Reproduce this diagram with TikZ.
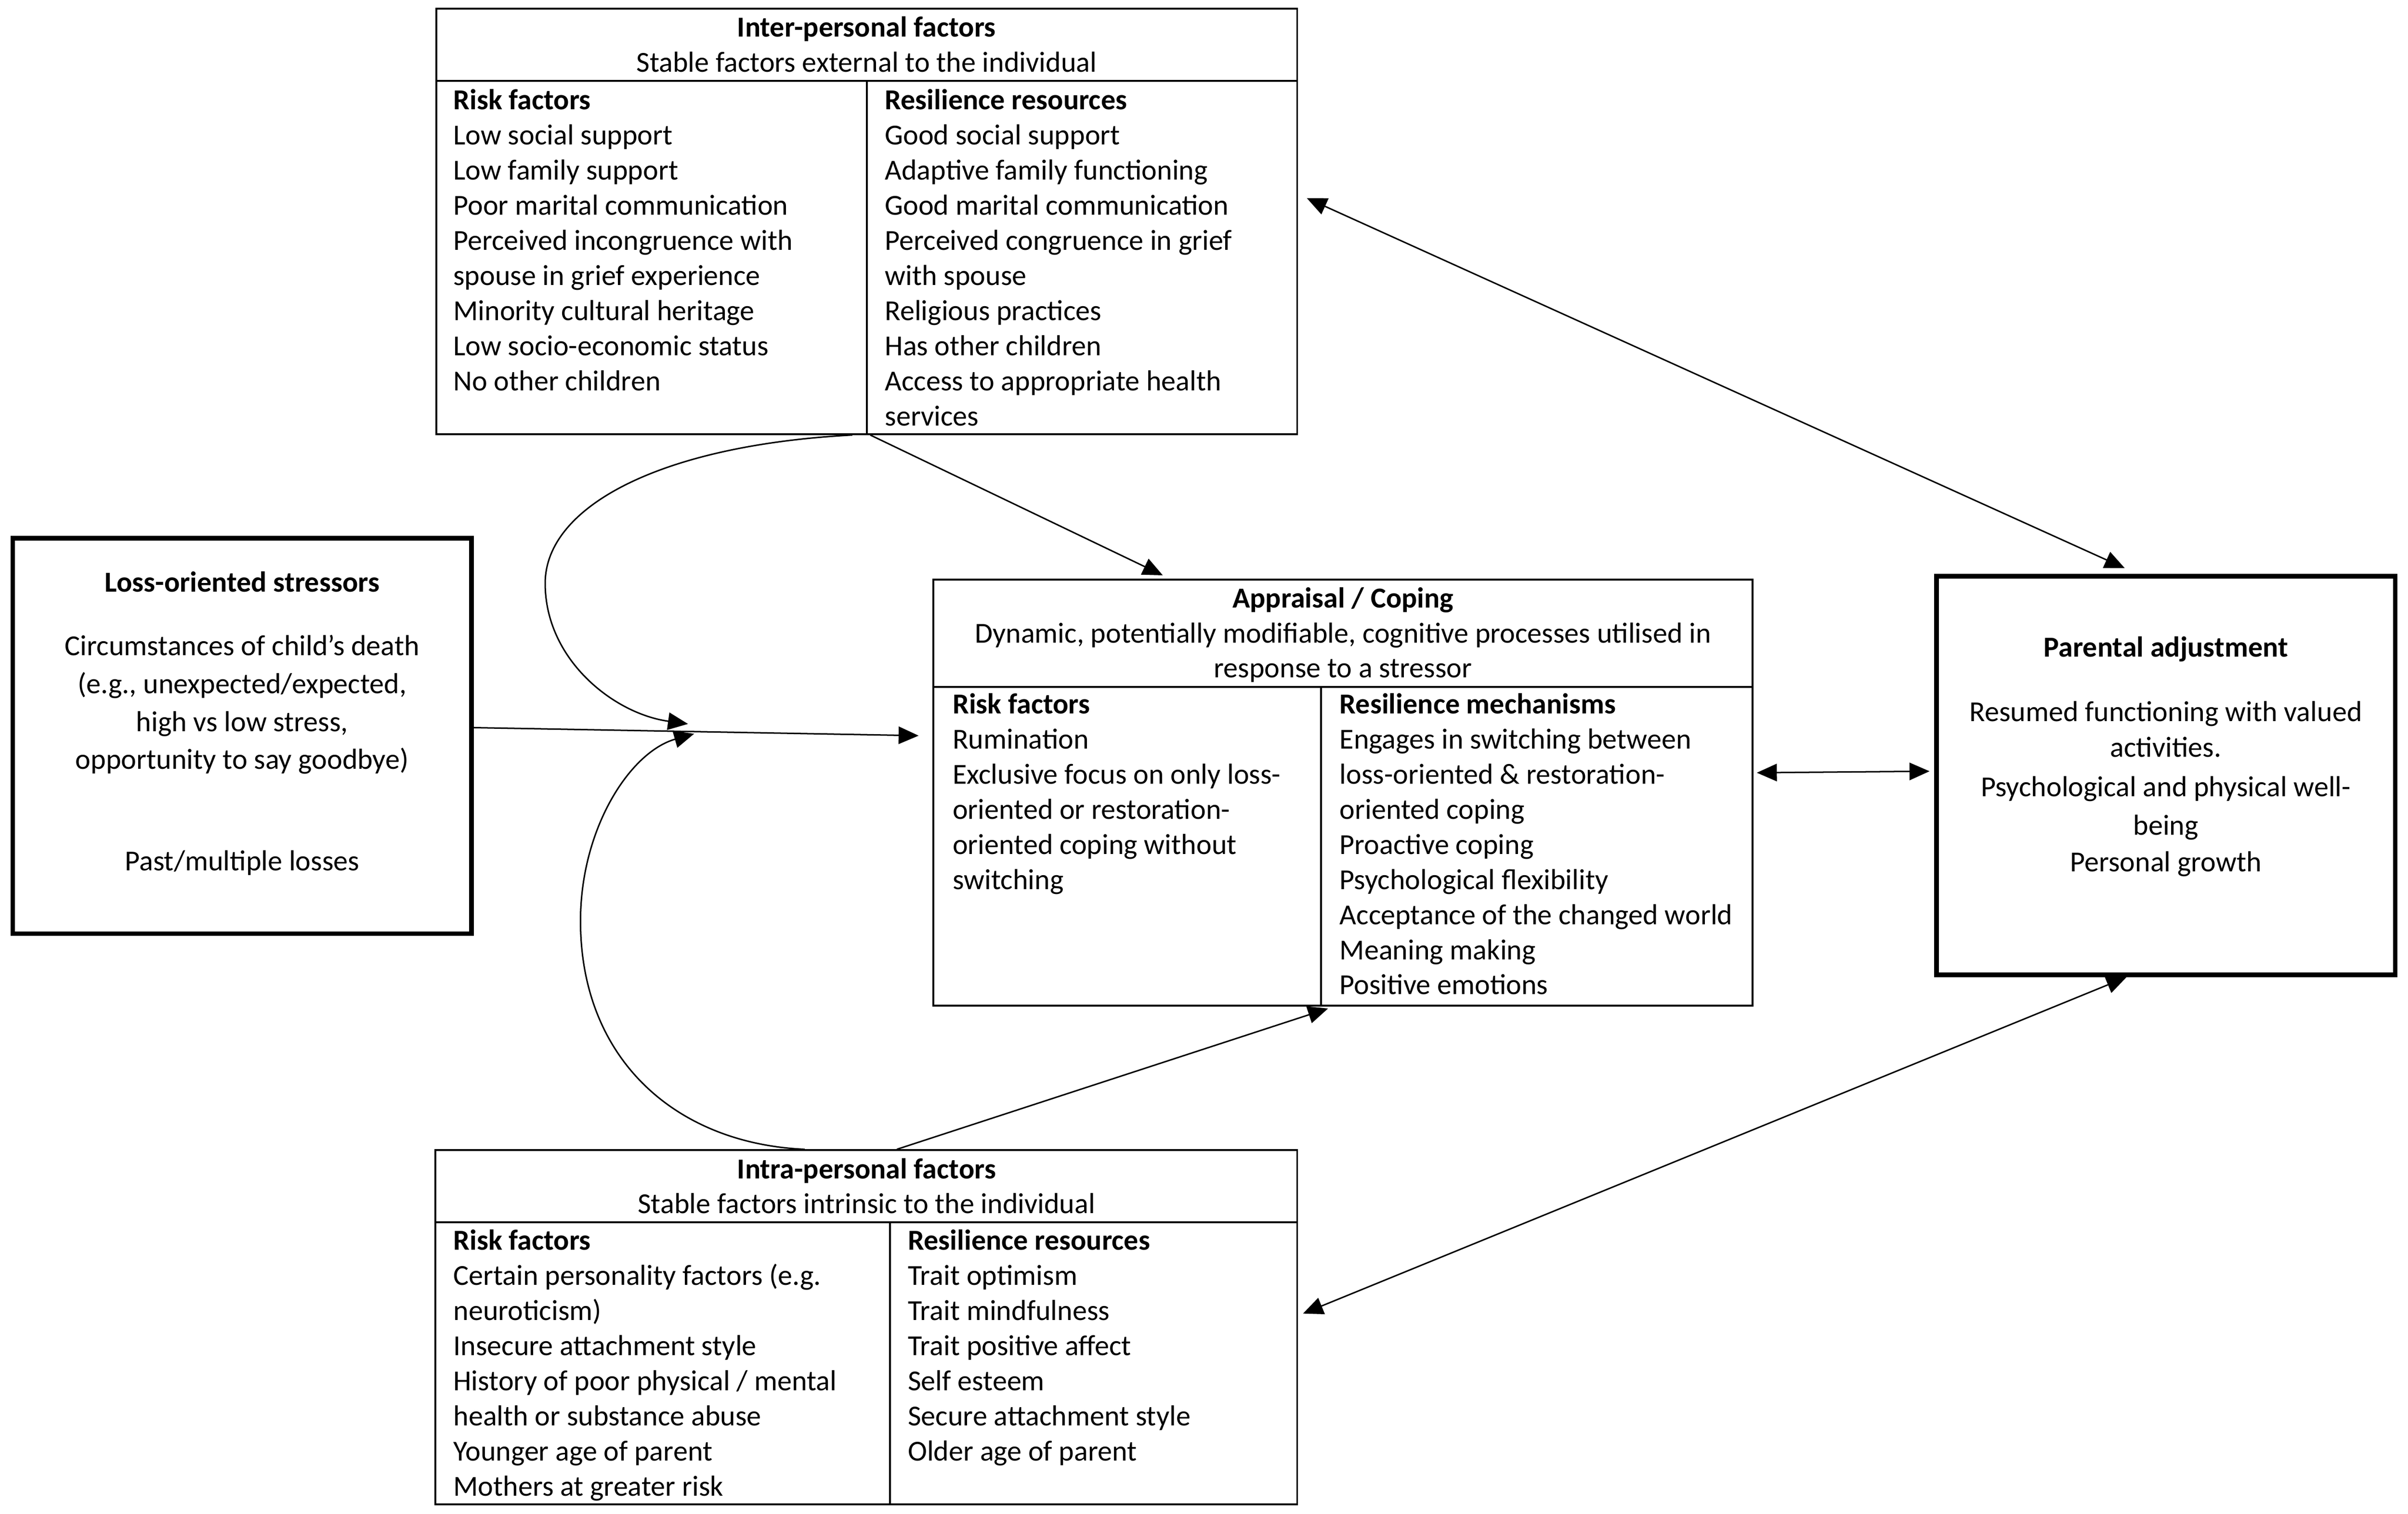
\documentclass[tikz,border=0pt]{standalone}
\usepackage{fontspec}
\setmainfont{Carlito}
\usetikzlibrary{arrows.meta,fit}
\begin{document}
\begin{tikzpicture}[x=0.583pt,y=-0.583pt,
 box/.style={draw, line width=0.7pt, inner sep=0pt},
 thickbox/.style={draw, line width=1.7pt, inner sep=0pt},
 txt/.style={inner sep=0pt, anchor=base west, font=\fontsize{11}{13.4}\selectfont},
 ctxt/.style={inner sep=0pt, anchor=base, font=\fontsize{11}{13.4}\selectfont},
 btxt/.style={inner sep=0pt, anchor=base, font=\fontsize{11}{13.4}\selectfont\bfseries},
 arr/.style={line width=0.55pt, -{Triangle[length=7.6pt,width=6.6pt]}},
 darr/.style={line width=0.55pt, {Triangle[length=7.6pt,width=6.6pt]}-{Triangle[length=7.6pt,width=6.6pt]}},
 sep/.style={line width=0.7pt}]
\useasboundingbox (0,0) rectangle (1568,986);

% ---------- boxes ----------
\node[box, fit={(284,5.7) (844.7,282.8)}] (inter) {};
\node[thickbox, fit={(8.4,350.6) (307,608.2)}] (loss) {};
\node[box, fit={(607.7,377.6) (1141.3,655)}] (appr) {};
\node[thickbox, fit={(1261,375.4) (1559.6,635)}] (par) {};
\node[box, fit={(283.4,749.3) (844.7,980)}] (intra) {};

% header separators and column dividers
\draw[sep] (inter.west |- 0,52.6) -- (inter.east |- 0,52.6);
\draw[sep] (564.5,52.6) -- (inter.south -| 564.5,0);
\draw[sep] (appr.west |- 0,447.5) -- (appr.east |- 0,447.5);
\draw[sep] (860.3,447.5) -- (appr.south -| 860.3,0);
\draw[sep] (intra.west |- 0,796.2) -- (intra.east |- 0,796.2);
\draw[sep] (579.4,796.2) -- (intra.south -| 579.4,0);

% ---------- inter-personal ----------
\node[btxt] (intert) at (564.3,24) {Inter-personal factors};
\node[ctxt] (inters) at (564.3,46.9) {Stable factors external to the individual};
\foreach \t [count=\i] in {\textbf{Risk factors}, Low social support, Low family support, Poor marital communication, Perceived incongruence with, spouse in grief experience, Minority cultural heritage, Low socio-economic status, No other children}
  \node[txt] (il\i) at (294.9,{71.2+22.9*(\i-1)}) {\t};
\foreach \t [count=\i] in {\textbf{Resilience resources}, Good social support, Adaptive family functioning, Good marital communication, Perceived congruence in grief, with spouse, Religious practices, Has other children, Access to appropriate health, services}
  \node[txt] (ir\i) at (575.9,{71.2+22.9*(\i-1)}) {\t};

% ---------- loss-oriented ----------
\node[btxt] (losst) at (157.7,385.5) {Loss-oriented stressors};
\node[ctxt] (loss1) at (157.7,427) {Circumstances of child’s death};
\node[ctxt] (loss2) at (157.7,451.7) {(e.g., unexpected/expected,};
\node[ctxt] (loss3) at (157.7,476.4) {high vs low stress,};
\node[ctxt] (loss4) at (157.7,501) {opportunity to say goodbye)};
\node[ctxt] (loss5) at (157.7,567.3) {Past/multiple losses};

% ---------- appraisal / coping ----------
\node[btxt] (apprt) at (874.5,396) {Appraisal / Coping};
\node[ctxt] (apprs1) at (874.5,418.9) {Dynamic, potentially modifiable, cognitive processes utilised in};
\node[ctxt] (apprs2) at (874.5,441.5) {response to a stressor};
\foreach \t [count=\i] in {\textbf{Risk factors}, Rumination, Exclusive focus on only loss-, oriented or restoration-, oriented coping without, switching}
  \node[txt] (al\i) at (620,{465+22.86*(\i-1)}) {\t};
\foreach \t [count=\i] in {\textbf{Resilience mechanisms}, Engages in switching between, loss-oriented \& restoration-, oriented coping, Proactive coping, Psychological flexibility, Acceptance of the changed world, Meaning making, Positive emotions}
  \node[txt] (ar\i) at (872,{465+22.86*(\i-1)}) {\t};

% ---------- parental adjustment ----------
\node[btxt] (part) at (1410.3,427.8) {Parental adjustment};
\node[ctxt] (par1) at (1410.3,469.8) {Resumed functioning with valued};
\node[ctxt] (par2) at (1410.3,493) {activities.};
\node[ctxt] (par3) at (1410.3,519) {Psychological and physical well-};
\node[ctxt] (par4) at (1410.3,544) {being};
\node[ctxt] (par5) at (1410.3,567.7) {Personal growth};

% ---------- intra-personal ----------
\node[btxt] (intrat) at (564.3,767.7) {Intra-personal factors};
\node[ctxt] (intras) at (564.3,790.5) {Stable factors intrinsic to the individual};
\foreach \t [count=\i] in {\textbf{Risk factors}, Certain personality factors (e.g., neuroticism), Insecure attachment style, History of poor physical / mental, health or substance abuse, Younger age of parent, Mothers at greater risk}
  \node[txt] (tl\i) at (294.9,{814.2+22.9*(\i-1)}) {\t};
\foreach \t [count=\i] in {\textbf{Resilience resources}, Trait optimism, Trait mindfulness, Trait positive affect, Self esteem, Secure attachment style, Older age of parent}
  \node[txt] (tr\i) at (590.9,{814.2+22.9*(\i-1)}) {\t};

% ---------- connectors ----------
\coordinate (merge1) at (448,471.6);
\coordinate (merge2) at (452,478);
\draw[arr, shorten >=5.2pt] (loss.east |- 0,474) -- (appr.west |- 0,479.4);
\draw[arr] (inter.south -| 555,0) .. controls (430,290) and (355,330) .. (355,380)
  .. controls (355,430) and (400,465) .. (merge1);
\draw[arr] (intra.north -| 524,0) .. controls (440,745) and (378,690) .. (378,600)
  .. controls (378,540) and (410,490) .. (merge2);
\draw[arr, shorten >=3pt] (inter.south -| 566.7,0) -- (appr.north -| 761.8,0);
\draw[arr, shorten >=2.6pt] (intra.north -| 584,0) -- (appr.south -| 869,0);
\draw[darr, shorten <=1.2pt, shorten >=1.8pt] (appr.east |- 0,503.4) -- (par.west |- 0,502.4);
\draw[darr, shorten <=3.6pt, shorten >=5.4pt] (inter.east |- 0,126.5) -- (par.north -| 1392,0);
\draw[darr, shorten <=0.2pt, shorten >=2pt] (par.south -| 1385,0) -- (intra.east |- 0,857);
\end{tikzpicture}
\end{document}
